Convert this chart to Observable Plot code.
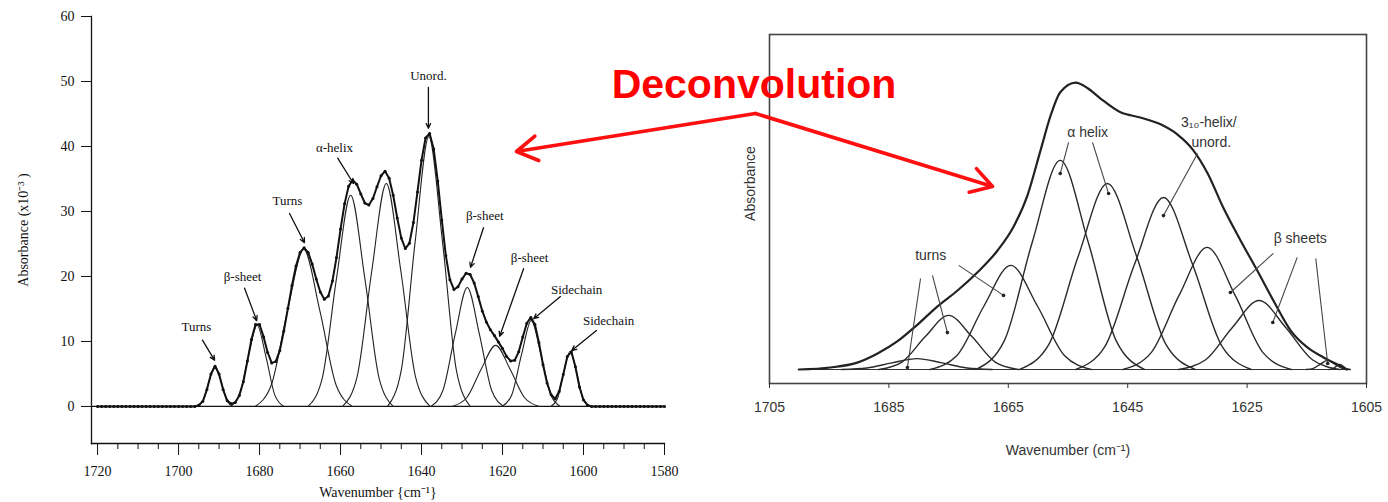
<!DOCTYPE html>
<html>
<head>
<meta charset="utf-8">
<script src="https://cdn.jsdelivr.net/npm/d3@7"></script>
<script src="https://cdn.jsdelivr.net/npm/@observablehq/plot@0.6"></script>
<style>
  html, body { margin: 0; padding: 0; background: #fff; }
  #page { position: relative; width: 1388px; height: 502px; overflow: hidden; background: #fff; }
  #page > svg { position: absolute; top: 0; }
</style>
</head>
<body>
<div id="page"></div>
<script>
// ---------------- LEFT PANEL DATA (Absorbance x10^-3 vs wavenumber) ----------------
const leftSumStart = 1720;            // first wavenumber of the measured trace, 1 cm-1 steps
const leftSumAbs = [
  0,0,0,0,0,0,0,0,0,0,0,0,0,0,0,0,0,0,0,0,0,0,0,0,
  0,0.2,0.8,2.6,5.0,6.2,5.0,2.6,0.9,0.4,
  0.6,1.7,3.8,7.0,10.3,12.6,12.6,10.7,8.3,6.7,
  6.9,8.6,11.6,15.1,18.6,21.6,23.7,24.4,23.7,21.9,
  19.6,17.6,16.5,17.0,19.3,22.9,27.3,31.2,33.9,34.8,
  34.2,32.7,31.3,31.0,32.0,33.8,35.5,36.2,35.1,32.5,
  29.0,25.9,24.3,25.1,28.3,33.0,37.9,41.3,42.0,39.6,
  34.7,28.7,23.2,19.5,18.0,18.4,19.6,20.5,20.3,19.0,
  16.9,14.7,13.0,11.8,10.9,9.9,8.9,7.7,7.0,7.1,
  8.4,10.7,12.8,13.7,12.6,9.8,6.4,3.6,1.8,1.2,
  2.3,4.9,7.7,8.4,6.1,3.0,1.0,0.2,0,
  0,0,0,0,0,0,0,0,0,0,0,0,0,0,0,0,0,0
];
const leftTurns1 = [[1695.5,0],[1694,0.8],[1692.5,3.8],[1691,6.2],[1689.5,3.8],[1688,0.8],[1686.5,0]];
const leftBeta1  = [[1687.2,0],[1685,1.7],[1682.8,7.6],[1680.6,12.5],[1678.4,7.6],[1676.2,1.7],[1674,0]];
const leftTurns2 = [[1681.1,0],[1677.1,3.3],[1673.1,14.7],[1669.1,24.2],[1665.1,14.7],[1661.1,3.3],[1657.1,0]];
const leftHelix1 = [[1668,0],[1664.5,4.4],[1661,19.7],[1657.5,32.5],[1654,19.7],[1650.5,4.4],[1647,0]];
const leftHelix2 = [[1659.5,0],[1655.9,4.6],[1652.3,20.8],[1648.7,34.3],[1645.1,20.8],[1641.5,4.6],[1637.9,0]];
const leftUnord  = [[1648.4,0],[1645,5.6],[1641.6,25.2],[1638.2,41.5],[1634.8,25.2],[1631.4,5.6],[1628,0]];
const leftBeta2  = [[1637.7,0],[1634.7,2.5],[1631.7,11.1],[1628.7,18.3],[1625.7,11.1],[1622.7,2.5],[1619.7,0]];
const leftBeta3  = [[1632.5,0],[1628.9,1.3],[1625.3,5.7],[1621.7,9.4],[1618.1,5.7],[1614.5,1.3],[1610.9,0]];
const leftSide1  = [[1620.1,0],[1617.7,1.8],[1615.3,8.0],[1612.9,13.2],[1610.5,8.0],[1608.1,1.8],[1605.7,0]];
const leftSide2  = [[1608.1,0],[1606.5,1.1],[1604.9,5.2],[1603.3,8.5],[1601.7,5.2],[1600.1,1.1],[1598.5,0]];
const leftComponents = [leftTurns1, leftBeta1, leftTurns2, leftHelix1, leftHelix2, leftUnord, leftBeta2, leftBeta3, leftSide1, leftSide2];

const leftYTicks = [0, 10, 20, 30, 40, 50, 60];
const leftXTicks = [1720, 1700, 1680, 1660, 1640, 1620, 1600, 1580];
const leftXMinor = [1715,1710,1705,1695,1690,1685,1675,1670,1665,1655,1650,1645,1635,1630,1625,1615,1610,1605,1595,1590,1585];

const leftLabelText = ["Turns", "β-sheet", "Turns", "α-helix", "Unord.", "β-sheet", "β-sheet", "Sidechain", "Sidechain"];

// ---------------- RIGHT PANEL DATA (relative absorbance) ----------------
const rightEnvWave = [1700.1,1694.8,1690.3,1686.9,1683.6,1680.2,1676.9,1673.5,1670.2,1666.8,1664.1,1661.8,1659.6,1657.9,1656.3,1653.7,1651.7,1649.6,1646.2,1642.9,1639.5,1636.7,1634.0,1631.6,1629.0,1626.1,1623.3,1620.6,1617.7,1614.9,1612.2,1608.9,1608.3];
const rightEnvAbs  = [0,0.7,2.4,5.6,9.8,15.7,22.0,27.6,33.9,41.6,50.0,60.8,76.6,88.8,96.9,100.3,98.3,94.8,89.9,88.1,85.7,82.2,76.6,68.5,56.6,45.1,34.6,24.1,13.6,7.7,4.2,0.7,0];
const rightTurnsLow  = [[1692.9,0],[1688.7,0.5],[1684.5,2.3],[1680.3,3.8],[1676.1,2.3],[1671.9,0.5],[1667.7,0]];
const rightTurnsMid  = [[1686.7,0],[1682.8,2.6],[1678.9,11.5],[1675.0,18.9],[1671.1,11.5],[1667.2,2.6],[1663.3,0]];
const rightTurnsHigh = [[1678.1,0],[1673.6,4.9],[1669.1,22.1],[1664.6,36.4],[1660.1,22.1],[1655.6,4.9],[1651.1,0]];
const rightHelix1    = [[1670.4,0],[1665.7,9.9],[1661.0,44.4],[1656.3,73.1],[1651.6,44.4],[1646.9,9.9],[1642.2,0]];
const rightHelix2    = [[1663.1,0],[1658.2,8.8],[1653.3,39.5],[1648.4,65.0],[1643.5,39.5],[1638.6,8.8],[1633.7,0]];
const right310       = [[1653.7,0],[1648.8,8.1],[1643.9,36.5],[1639.0,60.1],[1634.1,36.5],[1629.2,8.1],[1624.3,0]];
const rightBeta1     = [[1645.8,0],[1641.1,5.8],[1636.4,25.9],[1631.7,42.7],[1627.0,25.9],[1622.3,5.8],[1617.6,0]];
const rightBeta2     = [[1636.5,0],[1632.0,3.3],[1627.5,14.6],[1623.0,24.1],[1618.5,14.6],[1614.0,3.3],[1609.5,0]];
const rightBeta3     = [[1615.1,0],[1613.9,0.4],[1612.7,1.9],[1611.5,3.2],[1610.3,1.9],[1609.1,0.4],[1607.9,0]];
const rightBeta4     = [[1611.3,0],[1610.7,0.2],[1610.1,1.1],[1609.5,1.8],[1608.9,1.1],[1608.3,0.2],[1607.7,0]];
const rightComponents = [rightTurnsLow, rightTurnsMid, rightTurnsHigh, rightHelix1, rightHelix2, right310, rightBeta1, rightBeta2, rightBeta3, rightBeta4];

const rightXTicks = [1705, 1685, 1665, 1645, 1625, 1605];
const rightLabelText = ["turns", "α helix", "3₁₀-helix/", "unord.", "β sheets"];
const rightYLabel = "Absorbance";

const titleText = "Deconvolution";

// ---------------- ANNOTATION LAYOUT (placement only) ----------------
const leftLabelAt = [[1695.6,12.2],[1684.2,20.0],[1673.1,31.7],[1661.5,39.8],[1638.3,50.8],[1624.4,29.4],[1613.3,22.9],[1601.7,18.0],[1593.8,13.1]];
const leftArrowAt = [
  [1694.1,10.2,1691.1,7.1],[1683.7,18.2,1680.7,13.2],[1672.6,29.7,1668.9,25.2],
  [1660.7,38.2,1656.8,34.3],[1638.3,49.1,1638.3,42.8],[1624.7,27.5,1627.9,21.4],
  [1614.8,21.2,1620.7,10.8],[1605.7,16.9,1612.3,13.5],[1596.8,11.7,1602.9,8.6]
];
const rightLabelAt = [[1678.0,39.9],[1651.7,82.9],[1631.4,86.5],[1631.0,79.2],[1616.1,45.8]];
const rightYLabelAt = 65;
const rightLeaderAt = [
  [1679.7,31.8,1681.9,0.7],[1677.7,32.9,1675.2,12.9],[1673.3,36.4,1665.8,25.9],
  [1654.9,79.4,1656.3,68.5],[1650.9,79.4,1648.2,61.5],
  [1633.3,75.5,1639.0,53.8],
  [1620.6,40.6,1627.8,26.9],[1616.6,39.2,1620.7,16.4],[1613.5,38.8,1611.5,2.1]
];
const pageLayout = { title: [753.5, 84], redArrows: [[755,113,516,151],[755,113,992,186]] };

// ---------------- BUILD TABLES ----------------
const leftSum = leftSumAbs.map((a, i) => ({wave: leftSumStart - i, abs: a}));
const leftComp = leftComponents.flatMap((pts, k) => pts.map(([w, a]) => ({id: k, wave: w, abs: a})));
const leftLabels = leftLabelText.map((t, i) => ({text: t, wave: leftLabelAt[i][0], abs: leftLabelAt[i][1]}));
const leftArrows = leftArrowAt.map(([x1, y1, x2, y2]) => ({x1, y1, x2, y2}));

const rightEnv = rightEnvWave.map((w, i) => ({wave: w, abs: rightEnvAbs[i]}));
const rightComp = rightComponents.flatMap((pts, k) => pts.map(([w, a]) => ({id: k, wave: w, abs: a})));
const rightLabels = rightLabelText.map((t, i) => ({text: t, wave: rightLabelAt[i][0], abs: rightLabelAt[i][1]}));
const rightLeaders = rightLeaderAt.map(([x1, y1, x2, y2]) => ({x1, y1, x2, y2}));

const serif = "'Liberation Serif', 'Times New Roman', serif";
const sans = "'Liberation Sans', Arial, sans-serif";

// ---------------- LEFT PLOT ----------------
const leftPlot = Plot.plot({
  width: 680, height: 502,
  marginLeft: 91, marginRight: 16, marginTop: 16, marginBottom: 59,
  style: {background: "transparent", fontFamily: serif, fontSize: "14px", color: "#111", overflow: "visible"},
  x: {domain: [1721.5, 1580], label: null},
  y: {domain: [-5.7, 60], label: null},
  marks: [
    Plot.frame({anchor: "left", stroke: "#111", strokeWidth: 1.3}),
    Plot.frame({anchor: "bottom", stroke: "#111", strokeWidth: 1.3}),
    Plot.axisY({ticks: leftYTicks, tickSize: 10, tickPadding: 7, label: "Absorbance (x10⁻³ )", labelArrow: "none", labelAnchor: "center", labelOffset: 73, fontSize: 14}),
    Plot.axisX({ticks: leftXTicks, tickSize: 12, tickPadding: 11, tickFormat: "d", label: "Wavenumber {cm⁻¹}", labelArrow: "none", labelAnchor: "center", labelOffset: 53, fontSize: 14}),
    Plot.axisX({ticks: leftXMinor, tickSize: 6, tickFormat: () => "", label: null}),
    Plot.ruleY([0], {stroke: "#111", strokeWidth: 1.2}),
    Plot.line(leftComp, {x: "wave", y: "abs", z: "id", curve: "monotone-x", stroke: "#222", strokeWidth: 1.1}),
    Plot.line(leftSum, {x: "wave", y: "abs", curve: "linear", stroke: "#111", strokeWidth: 2}),
    Plot.dot(leftSum, {x: "wave", y: "abs", r: 1.5, fill: "#111", stroke: null}),
    Plot.arrow(leftArrows, {x1: "x1", y1: "y1", x2: "x2", y2: "y2", stroke: "#111", strokeWidth: 1.3, headLength: 6, headAngle: 50}),
    Plot.text(leftLabels, {x: "wave", y: "abs", text: "text", fontSize: 13, fontFamily: serif, fill: "#111"})
  ]
});

// ---------------- RIGHT PLOT ----------------
const rightPlot = Plot.plot({
  width: 688, height: 502,
  marginLeft: 69, marginRight: 22, marginTop: 34, marginBottom: 119,
  style: {background: "transparent", fontFamily: sans, fontSize: "14px", color: "#333", overflow: "visible"},
  x: {domain: [1705, 1605], label: null},
  y: {domain: [-4.9, 117.1], label: null, axis: null},
  marks: [
    Plot.frame({stroke: "#444", strokeWidth: 1.6}),
    Plot.axisX({ticks: rightXTicks, tickSize: 5, tickPadding: 14, tickFormat: "d", label: "Wavenumber (cm⁻¹)", labelArrow: "none", labelAnchor: "center", labelOffset: 71, fontSize: 14}),
    Plot.text([rightYLabel], {frameAnchor: "left", y: rightYLabelAt, text: d => d, rotate: -90, dx: -19, textAnchor: "middle", lineAnchor: "middle", fontSize: 14, fontFamily: sans, fill: "#333"}),
    Plot.ruleY([0], {x1: rightEnvWave[0], x2: rightEnvWave[rightEnvWave.length - 1], stroke: "#333", strokeWidth: 1.2}),
    Plot.line(rightComp, {x: "wave", y: "abs", z: "id", curve: "monotone-x", stroke: "#2a2a2a", strokeWidth: 1.4}),
    Plot.line(rightEnv, {x: "wave", y: "abs", curve: "monotone-x", stroke: "#222", strokeWidth: 2.2}),
    Plot.link(rightLeaders, {x1: "x1", y1: "y1", x2: "x2", y2: "y2", stroke: "#444", strokeWidth: 1.1}),
    Plot.dot(rightLeaders, {x: "x2", y: "y2", r: 1.8, fill: "#222", stroke: null}),
    Plot.text(rightLabels, {x: "wave", y: "abs", text: "text", fontSize: 14, fontFamily: sans, fill: "#333"})
  ]
});

// ---------------- OVERLAY (title + red arrows) ----------------
const overlay = Plot.plot({
  width: 1388, height: 502, margin: 0,
  x: {domain: [0, 1388], range: [0, 1388]},
  y: {domain: [0, 502], range: [0, 502]},
  axis: null,
  style: {background: "transparent", overflow: "visible"},
  marks: [
    Plot.text([titleText], {x: pageLayout.title[0], y: pageLayout.title[1], text: d => d, fontSize: 41, fontWeight: "bold", fontFamily: sans, fill: "#ff0000"}),
    Plot.arrow(pageLayout.redArrows, {x1: d => d[0], y1: d => d[1], x2: d => d[2], y2: d => d[3], stroke: "#ff1010", strokeWidth: 3.6, headLength: 10, headAngle: 62})
  ]
});

const page = document.getElementById("page");
leftPlot.style.left = "0px";
rightPlot.style.left = "700px";
overlay.style.left = "0px";
overlay.style.pointerEvents = "none";
page.append(leftPlot, rightPlot, overlay);
</script>
</body>
</html>
